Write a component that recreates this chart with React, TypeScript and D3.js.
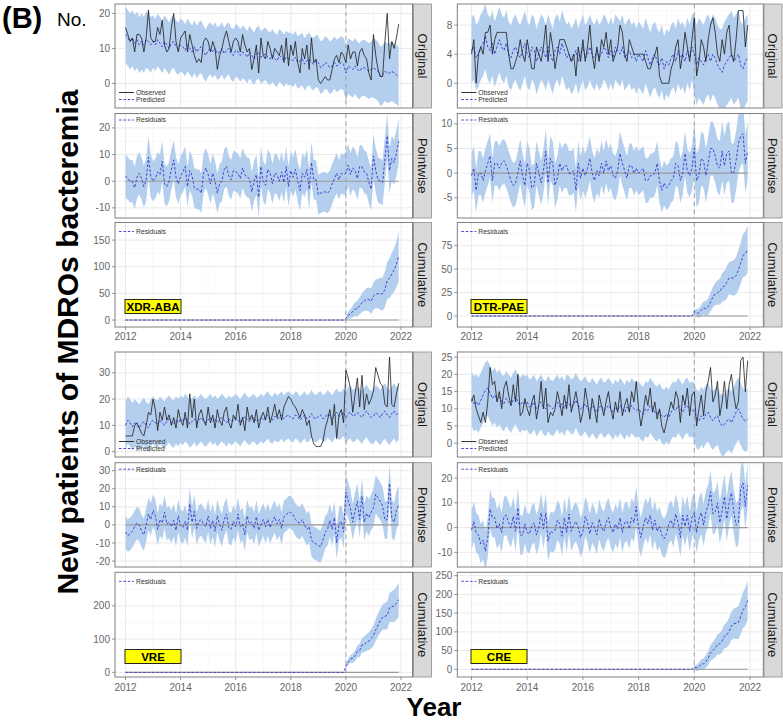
import React from "react";
import * as d3 from "d3";

// ---------------- DATA (monthly, Jan 2012 – Dec 2021) ----------------
const START_YEAR = 2012;
const INTERVENTION_YEAR = 2020;
const xTickYears = [2012, 2014, 2016, 2018, 2020, 2022];
const stripLabels = ["Original", "Pointwise", "Cumulative"];
const observedLabel = "Observed";
const predictedLabel = "Predicted";
const residualLabel = "Residuals";

// XDR-ABA
const xdrObserved = [
  16, 14, 12, 13, 9, 14, 14, 13, 9, 13, 21, 13,
  12, 12, 16, 14, 18, 11, 9, 10, 16, 20, 12, 9,
  13, 14, 15, 9, 14, 11, 8, 6, 7, 6, 12, 13,
  12, 9, 12, 10, 4, 8, 10, 13, 15, 12, 9, 12,
  13, 12, 9, 14, 11, 9, 10, 4, 7, 11, 3, 13,
  8, 7, 12, 10, 7, 10, 9, 8, 11, 6, 13, 5,
  11, 8, 12, 6, 3, 10, 7, 11, 4, 13, 6, 7,
  1, 0, 1, 2, 1, 1, 4, 7, 8, 6, 9, 8,
  6, 11, 7, 9, 9, 5, 9, 10, 8, 7, 3, 1,
  14, 8, 4, 2, 2, 12, 20, 7, 12, 10, 13, 17,
];
const xdrPredicted = [
  14, 13, 12, 13, 11.5, 12.5, 11, 12, 11, 12.5, 12, 11,
  12, 11, 12.5, 11.5, 10.5, 12, 11, 10, 11.5, 12, 10.5, 10,
  11, 10.5, 9.5, 11, 10, 9, 10.5, 9, 10, 10.5, 9, 8,
  9.5, 10, 9, 10, 8.5, 9, 10, 8.5, 9.5, 10, 8.5, 8,
  9.5, 9, 8, 9, 8.5, 7.5, 9, 8, 7, 8.5, 9, 7.5,
  8, 8.5, 7.5, 7, 8, 7, 6.5, 8, 7.5, 6.5, 7.5, 7,
  7, 6.5, 7.5, 6, 6.5, 7, 5.5, 6.5, 7, 6, 5.5, 6.5,
  6, 4.5, 5, 6, 5.5, 4.5, 5, 6, 5, 5.5, 6, 5.5,
  3, 5, 4.5, 4, 5, 4, 3.5, 4.5, 4.5, 4, 3.5, 4,
  4.5, 4, 3.5, 2, 2.5, 3.5, 3, 3, 3.5, 3, 2.5, 2,
];
const xdrBandHalf = [8, 7.5, 7.5, 7.5, 7.5, 7.5, 7.5, 7.5, 8, 8.5];
const xdrCumBandHalf = [4, 7, 9, 11, 13, 15, 16, 18, 19, 21, 22, 24, 25, 27, 28, 30, 31, 33, 35, 37, 39, 41, 43, 46];
const xdrRanges = [[-7, 22.7], [-13.8, 25.4], [-13, 183]];
const xdrTicks = [[0, 10, 20], [-10, 0, 10, 20], [0, 50, 100, 150]];

// DTR-PAE
const dtrObserved = [
  4, 6, 0, 4, 5, 4, 7, 7, 8, 4, 6, 7,
  7, 7, 7, 7, 4, 2, 2, 3, 4, 6, 4, 3,
  6, 4, 2, 2, 5, 4, 3, 5, 8, 3, 7, 5,
  2, 4, 6, 6, 6, 5, 4, 3, 4, 1, 5, 3,
  6, 3, 5, 8, 4, 2, 5, 3, 6, 5, 7, 4,
  6, 3, 4, 5, 8, 7, 4, 3, 6, 5, 4, 4,
  4, 4, 4, 3, 2, 2, 3, 4, 5, 1, 0, 0,
  0, 0, 2, 3, 5, 6, 2, 4, 7, 5, 3, 6,
  9, 1, 3, 6, 5, 3, 6, 8, 9, 7, 4, 3,
  6, 4, 7, 8, 4, 3, 6, 10, 10, 10, 5, 8,
];
const dtrPredicted = [
  4.5, 5, 3.5, 4, 5, 5.5, 6.5, 5, 4.5, 5.5, 4, 5,
  6, 5, 4.5, 5.5, 4, 3.5, 4.5, 5, 4, 3.5, 4.5, 5.5,
  4, 3.5, 5, 4.5, 3, 4, 5, 4.5, 3.5, 5, 4, 3,
  4.5, 5, 4, 5.5, 4.5, 3.5, 4, 3, 3.5, 4.5, 3, 4,
  5, 3.5, 4, 5, 4, 3.5, 4.5, 3.5, 4, 5, 4.5, 3.5,
  4.5, 3.5, 5, 4.5, 4, 5, 3.5, 4, 4.5, 3.5, 4, 3,
  4, 3.5, 3, 4.5, 3.5, 2.5, 3.5, 4, 3, 2.5, 3.5, 2,
  3, 2.5, 3.5, 4, 3, 4.5, 3.5, 4, 3, 4.5, 3.5, 5,
  4, 2.5, 3.5, 3, 2.5, 3.5, 4, 3, 4, 3.5, 2.5, 2,
  1.5, 2.5, 3, 3.5, 4, 3, 3.5, 4, 2.5, 2, 3, 3.5,
];
const dtrBandHalf = [4.5, 4.5, 4.5, 4.5, 4.5, 4.5, 4.5, 4.5, 5.5, 6];
const dtrCumBandHalf = [2, 4, 5, 6, 7, 8, 9, 10, 11, 12, 13, 14, 15, 16, 17, 17, 18, 19, 20, 21, 22, 23, 24, 25];
const dtrRanges = [[-3.4, 10.9], [-9.1, 12.1], [-11.7, 99.7]];
const dtrTicks = [[0, 4, 8], [-5, 0, 5, 10], [0, 25, 50, 75]];

// VRE
const vreObserved = [
  6, 6, 6, 6, 10, 11, 9, 7, 6, 10, 15, 14,
  20, 16, 8, 15, 12, 17, 12, 14, 10, 13, 9, 16,
  12, 10, 15, 9, 22, 13, 20, 9, 14, 16, 12, 10,
  17, 11, 14, 9, 16, 12, 10, 15, 17, 11, 9, 14,
  12, 18, 10, 13, 8, 17, 12, 14, 11, 16, 9, 13,
  15, 12, 17, 11, 14, 18, 13, 16, 12, 17, 19, 21,
  20, 18, 17, 15, 13, 16, 14, 10, 12, 6, 3, 2,
  2, 2, 4, 9, 12, 16, 10, 18, 5, 14, 16, 11,
  31, 28, 24, 15, 22, 28, 17, 29, 16, 22, 18, 20,
  23, 32, 29, 26, 25, 18, 17, 36, 18, 17, 22, 26,
];
const vrePredicted = [
  10, 12, 11, 9.5, 11, 10, 9, 10.5, 11.5, 10, 9, 11,
  12, 11, 10.5, 12, 11, 10, 11.5, 12.5, 11, 10.5, 12, 11,
  12.5, 11.5, 13, 12, 10.5, 11.5, 12.5, 11, 12, 13, 11.5, 11,
  12, 13, 11.5, 12.5, 11, 12, 13, 12, 11, 12.5, 11.5, 12,
  13, 12, 11, 12.5, 13.5, 12, 11.5, 12.5, 13, 11.5, 12, 13,
  12, 13, 14, 12.5, 12, 13.5, 12.5, 13, 14, 12.5, 13.5, 14,
  13, 12.5, 14, 13.5, 12, 13, 14, 12.5, 13, 14.5, 13, 12.5,
  13.5, 14, 12.5, 13, 14.5, 13.5, 12.5, 14, 15, 13.5, 14, 15,
  13, 14.5, 15, 13.5, 14, 15, 14, 13, 14.5, 15.5, 14, 13,
  13.5, 15, 14, 13, 14.5, 15.5, 14, 13, 14.5, 15.5, 14, 15,
];
const vreBandHalf = [9, 9, 9, 9, 9, 9, 9, 9, 10, 10.5];
const vreCumBandHalf = [5, 9, 12, 14, 16, 18, 20, 22, 24, 25, 27, 29, 31, 33, 35, 36, 38, 40, 42, 44, 46, 48, 50, 52];
const vreRanges = [[-2, 37.9], [-23.3, 34.4], [-14, 301]];
const vreTicks = [[0, 10, 20, 30], [-20, -10, 0, 10, 20, 30], [0, 100, 200]];

// CRE
const creObserved = [
  12, 14, 10, 8, 6, 9, 6, 12, 22, 17, 18, 12,
  15, 10, 16, 18, 14, 11, 17, 12, 20, 8, 9, 13,
  10, 8, 12, 14, 7, 11, 18, 10, 16, 6, 9, 8,
  10, 15, 12, 8, 14, 10, 17, 9, 12, 15, 11, 6,
  9, 16, 12, 7, 13, 10, 6, 14, 11, 8, 12, 15,
  10, 7, 12, 9, 15, 8, 11, 13, 9, 15, 12, 18,
  10, 5, 9, 14, 11, 16, 9, 12, 7, 10, 5, 3,
  6, 9, 12, 10, 15, 13, 6, 14, 11, 16, 8, 14,
  15, 5, 10, 14, 8, 15, 18, 22, 12, 14, 18, 8,
  12, 18, 10, 17, 20, 14, 10, 12, 24, 25, 15, 24,
];
const crePredicted = [
  13, 11.5, 12, 11, 12.5, 14, 15.5, 16, 14.5, 13, 14, 12.5,
  13.5, 12, 11.5, 13, 12, 11, 12.5, 13.5, 12, 11, 12, 11.5,
  12, 10.5, 11, 12, 10, 11, 12, 10.5, 10, 11.5, 10.5, 10,
  11, 12, 10.5, 11.5, 10, 12, 11.5, 10.5, 11, 12.5, 11, 10,
  10.5, 11.5, 10, 9.5, 11, 10, 9, 10.5, 11, 9.5, 10, 11,
  10, 9, 10.5, 9.5, 11, 10, 9, 10.5, 9.5, 11, 10, 9.5,
  10, 9, 8.5, 10, 9.5, 11, 10, 9, 8.5, 9.5, 8, 7.5,
  8.5, 7.5, 9, 10, 9.5, 11, 10, 9, 10.5, 11, 9.5, 10,
  9, 7, 6.5, 8, 7, 8.5, 9, 7.5, 6.5, 7.5, 8, 6,
  5, 5.5, 6.5, 7, 6, 7.5, 9, 10, 8.5, 7, 6.5, 7,
];
const creBandHalf = [8, 8, 8, 8, 8, 8, 8, 8, 8.5, 9];
const creCumBandHalf = [4, 8, 11, 13, 15, 17, 19, 21, 23, 25, 27, 29, 30, 32, 34, 36, 38, 40, 42, 44, 46, 48, 50, 52];
const creRanges = [[-4, 26.5], [-15.9, 26.2], [-20.5, 259]];
const creTicks = [[0, 5, 10, 15, 20, 25], [-10, 0, 10, 20], [0, 50, 100, 150, 200, 250]];

const organismLabels = ["XDR-ABA", "DTR-PAE", "VRE", "CRE"];

// ---------------- LAYOUT / STYLE ----------------
const W = 783;
const H = 721;
const FONT = "'Liberation Sans', Arial, Helvetica, sans-serif";
const BAND = "#b4cfee";
const PRED = "#3535d0";
const GRID_MAJOR = "#e4e4e4";
const GRID_MINOR = "#f3f3f3";
const BORDER = "#808080";
const TICK_TEXT = "#666666";

const COLS = [
  { x0: 115, x1: 412.5, a: 125.5, b: 401, strip: 413.5 },
  { x0: 457.3, x1: 763.3, a: 471.5, b: 750, strip: 764 },
];
const BLOCKS = [
  { rows: [[4, 108], [113.5, 218], [222.5, 327]], axisY: 340 },
  { rows: [[352, 457], [462.7, 567], [572.3, 677]], axisY: 691 },
];

type Row = {
  t: number; o: number; p: number; lo: number; hi: number;
  r: number; rlo: number; rhi: number; c: number; clo: number; chi: number; post: boolean;
};

type Dataset = {
  label: string;
  observed: number[];
  predicted: number[];
  bandHalf: number[];
  cumBandHalf: number[];
  ranges: number[][];
  ticks: number[][];
};

const datasets: Dataset[] = [
  { label: organismLabels[0], observed: xdrObserved, predicted: xdrPredicted, bandHalf: xdrBandHalf, cumBandHalf: xdrCumBandHalf, ranges: xdrRanges, ticks: xdrTicks },
  { label: organismLabels[1], observed: dtrObserved, predicted: dtrPredicted, bandHalf: dtrBandHalf, cumBandHalf: dtrCumBandHalf, ranges: dtrRanges, ticks: dtrTicks },
  { label: organismLabels[2], observed: vreObserved, predicted: vrePredicted, bandHalf: vreBandHalf, cumBandHalf: vreCumBandHalf, ranges: vreRanges, ticks: vreTicks },
  { label: organismLabels[3], observed: creObserved, predicted: crePredicted, bandHalf: creBandHalf, cumBandHalf: creCumBandHalf, ranges: creRanges, ticks: creTicks },
];

function buildRows(ds: Dataset): Row[] {
  let cum = 0;
  let postStart = -1;
  return ds.observed.map((o, i) => {
    const t = START_YEAR + i / 12;
    const p = ds.predicted[i];
    const hw = ds.bandHalf[Math.floor(i / 12)];
    const r = o - p;
    const post = t >= INTERVENTION_YEAR - 1e-9;
    let c = 0, clo = 0, chi = 0;
    if (post) {
      if (postStart < 0) postStart = i;
      cum += r;
      c = cum;
      const ch = ds.cumBandHalf[i - postStart];
      clo = c - ch;
      chi = c + ch;
    }
    return { t, o, p, lo: p - hw, hi: p + hw, r, rlo: r - hw, rhi: r + hw, c, clo, chi, post };
  });
}

function SubPanel(props: {
  id: string; col: typeof COLS[number]; top: number; bottom: number;
  range: number[]; ticks: number[]; kind: number; rows: Row[];
  label: string; showXAxis: boolean; axisY: number;
}) {
  const { id, col, top, bottom, range, ticks, kind, rows, label, showXAxis, axisY } = props;
  const xs = d3.scaleLinear().domain([START_YEAR, 2022]).range([col.a, col.b]);
  const ys = d3.scaleLinear().domain(range).range([bottom, top]);
  const step = ticks[1] - ticks[0];
  const yMinor: number[] = [];
  for (let v = ticks[0] - step / 2; v <= range[1]; v += step) if (v >= range[0]) yMinor.push(v);
  const xMinor = xTickYears.map((y) => y - 1).concat([xTickYears[xTickYears.length - 1] + 1])
    .filter((y) => xs(y) > col.x0 && xs(y) < col.x1);

  const tFirst = rows[0].t;
  const tLast = rows[rows.length - 1].t;
  const xV = xs(INTERVENTION_YEAR);

  let bandPath = "";
  const lines: JSX.Element[] = [];
  if (kind === 0) {
    bandPath = d3.area<Row>().x((d) => xs(d.t)).y0((d) => ys(d.lo)).y1((d) => ys(d.hi))(rows) || "";
    lines.push(<path key="pred" d={d3.line<Row>().x((d) => xs(d.t)).y((d) => ys(d.p))(rows) || ""} fill="none" stroke={PRED} strokeWidth={0.9} strokeDasharray="2.6,1.8" />);
    lines.push(<path key="obs" d={d3.line<Row>().x((d) => xs(d.t)).y((d) => ys(d.o))(rows) || ""} fill="none" stroke="#1c1c1c" strokeWidth={0.8} />);
  } else if (kind === 1) {
    bandPath = d3.area<Row>().x((d) => xs(d.t)).y0((d) => ys(d.rlo)).y1((d) => ys(d.rhi))(rows) || "";
    lines.push(<path key="res" d={d3.line<Row>().x((d) => xs(d.t)).y((d) => ys(d.r))(rows) || ""} fill="none" stroke={PRED} strokeWidth={0.9} strokeDasharray="2.6,1.8" />);
  } else {
    const postRows = rows.filter((d) => d.post);
    bandPath = d3.area<Row>().x((d) => xs(d.t)).y0((d) => ys(d.clo)).y1((d) => ys(d.chi))(postRows) || "";
    lines.push(<path key="cum" d={d3.line<Row>().x((d) => xs(d.t)).y((d) => ys(d.c))(rows) || ""} fill="none" stroke={PRED} strokeWidth={0.9} strokeDasharray="2.6,1.8" />);
  }

  const clipId = `clip-${id}`;
  return (
    <g>
      <defs>
        <clipPath id={clipId}>
          <rect x={col.x0} y={top} width={col.x1 - col.x0} height={bottom - top} />
        </clipPath>
      </defs>
      <rect x={col.x0} y={top} width={col.x1 - col.x0} height={bottom - top} fill="#ffffff" />
      {yMinor.map((v) => (
        <line key={`ym${v}`} x1={col.x0} x2={col.x1} y1={ys(v)} y2={ys(v)} stroke={GRID_MINOR} strokeWidth={0.6} />
      ))}
      {xMinor.map((v) => (
        <line key={`xm${v}`} x1={xs(v)} x2={xs(v)} y1={top} y2={bottom} stroke={GRID_MINOR} strokeWidth={0.6} />
      ))}
      {ticks.map((v) => (
        <line key={`yM${v}`} x1={col.x0} x2={col.x1} y1={ys(v)} y2={ys(v)} stroke={GRID_MAJOR} strokeWidth={0.8} />
      ))}
      {xTickYears.map((v) => (
        <line key={`xM${v}`} x1={xs(v)} x2={xs(v)} y1={top} y2={bottom} stroke={GRID_MAJOR} strokeWidth={0.8} />
      ))}
      <g clipPath={`url(#${clipId})`}>
        <path d={bandPath} fill={BAND} />
        {kind > 0 && (
          <line x1={xs(tFirst)} x2={xs(tLast)} y1={ys(0)} y2={ys(0)} stroke="#9a9a9a" strokeWidth={1.1} />
        )}
        <line x1={xV} x2={xV} y1={top} y2={bottom} stroke="#9a9a9a" strokeWidth={0.9} strokeDasharray="4.5,3.5" />
        {lines}
      </g>
      {kind === 0 ? (
        <g fontFamily={FONT} fontSize={6.8} fill="#333">
          <line x1={col.x0 + 4} x2={col.x0 + 19} y1={bottom - 15.5} y2={bottom - 15.5} stroke="#1c1c1c" strokeWidth={0.9} />
          <text x={col.x0 + 21} y={bottom - 15.5} dy="0.35em">{observedLabel}</text>
          <line x1={col.x0 + 4} x2={col.x0 + 19} y1={bottom - 8.5} y2={bottom - 8.5} stroke={PRED} strokeWidth={0.9} strokeDasharray="2.6,1.8" />
          <text x={col.x0 + 21} y={bottom - 8.5} dy="0.35em">{predictedLabel}</text>
        </g>
      ) : (
        <g fontFamily={FONT} fontSize={6.8} fill="#333">
          <line x1={col.x0 + 4} x2={col.x0 + 19} y1={top + (kind === 1 ? 6.5 : 9)} y2={top + (kind === 1 ? 6.5 : 9)} stroke={PRED} strokeWidth={0.9} strokeDasharray="2.6,1.8" />
          <text x={col.x0 + 21} y={top + (kind === 1 ? 6.5 : 9)} dy="0.35em">{residualLabel}</text>
        </g>
      )}
      <rect x={col.x0} y={top} width={col.x1 - col.x0} height={bottom - top} fill="none" stroke={BORDER} strokeWidth={1} />
      {ticks.map((v) => (
        <g key={`yt${v}`}>
          <line x1={col.x0 - 3} x2={col.x0} y1={ys(v)} y2={ys(v)} stroke="#777" strokeWidth={0.8} />
          <text x={col.x0 - 5} y={ys(v)} dy="0.36em" textAnchor="end" fontFamily={FONT} fontSize={10} fill={TICK_TEXT}>
            {v}
          </text>
        </g>
      ))}
      <rect x={col.strip} y={top} width={18} height={bottom - top} fill="#d9d9d9" stroke="#8c8c8c" strokeWidth={0.8} />
      <text
        transform={`translate(${col.strip + 9},${(top + bottom) / 2}) rotate(90)`}
        textAnchor="middle"
        dy="0.35em"
        fontFamily={FONT}
        fontSize={13}
        fill="#1a1a1a"
      >
        {stripLabels[kind]}
      </text>
      {showXAxis && (
        <g>
          {xTickYears.map((v) => (
            <g key={`xt${v}`}>
              <line x1={xs(v)} x2={xs(v)} y1={bottom} y2={bottom + 3} stroke="#777" strokeWidth={0.8} />
              <text x={xs(v)} y={axisY} textAnchor="middle" fontFamily={FONT} fontSize={10} fill={TICK_TEXT}>
                {v}
              </text>
            </g>
          ))}
          <rect x={xs(START_YEAR) - 0.5} y={bottom - 27.5} width={56} height={14} fill="#ffff00" stroke="#111" strokeWidth={0.9} />
          <text x={xs(START_YEAR) + 27.5} y={bottom - 20.5} dy="0.36em" textAnchor="middle" fontFamily={FONT} fontWeight="bold" fontSize={11.5} fill="#000">
            {label}
          </text>
        </g>
      )}
    </g>
  );
}

export default function App() {
  return (
    <svg
      width={W}
      height={H}
      viewBox={`0 0 ${W} ${H}`}
      style={{ position: "absolute", left: 0, top: 0, display: "block", background: "#ffffff" }}
    >
      <rect x={0} y={0} width={W} height={H} fill="#ffffff" />
      {datasets.map((ds, di) => {
        const col = COLS[di % 2];
        const block = BLOCKS[Math.floor(di / 2)];
        const rows = buildRows(ds);
        return (
          <g key={ds.label}>
            {block.rows.map((r, k) => (
              <SubPanel
                key={k}
                id={`${di}-${k}`}
                col={col}
                top={r[0]}
                bottom={r[1]}
                range={ds.ranges[k]}
                ticks={ds.ticks[k]}
                kind={k}
                rows={rows}
                label={ds.label}
                showXAxis={k === 2}
                axisY={block.axisY}
              />
            ))}
          </g>
        );
      })}
      <text x={2} y={28} fontFamily={FONT} fontWeight="bold" fontSize={29} fill="#000">(B)</text>
      <text x={57} y={26} fontFamily={FONT} fontSize={19} fill="#000">No.</text>
      <text
        transform="translate(78,342) rotate(-90)"
        textAnchor="middle"
        fontFamily={FONT}
        fontWeight="bold"
        fontSize={30}
        fill="#000"
      >
        New patients of MDROs bacteremia
      </text>
      <text x={434} y={716} textAnchor="middle" fontFamily={FONT} fontWeight="bold" fontSize={26} fill="#000">
        Year
      </text>
    </svg>
  );
}
